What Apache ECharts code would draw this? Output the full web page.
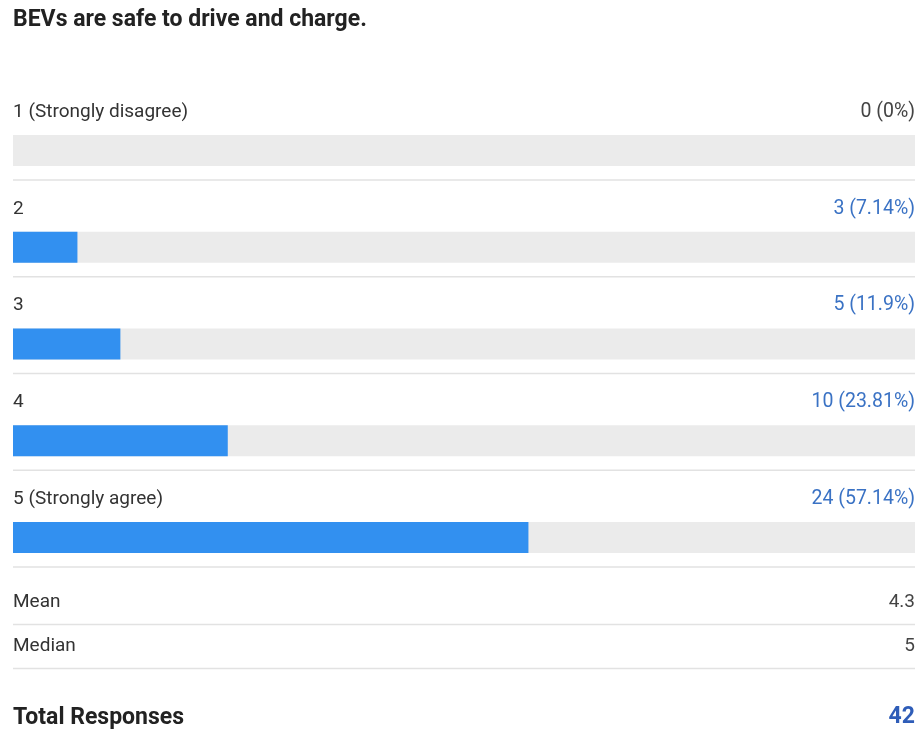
<!DOCTYPE html>
<html>
<head>
<meta charset="utf-8">
<script src="https://cdn.jsdelivr.net/npm/echarts@6/dist/echarts.min.js"></script>
<style>
  html, body { margin: 0; padding: 0; background: #fff; }
  #chart { width: 920px; height: 734px; }
</style>
</head>
<body>
<div id="chart"></div>
<script>
// Survey question and answer scale
const question = 'BEVs are safe to drive and charge.';
const choices = ['1 (Strongly disagree)', '2', '3', '4', '5 (Strongly agree)'];
const counts = [0, 3, 5, 10, 24];
const statLabels = ['Mean', 'Median'];
const statValues = ['4.3', '5'];
const totalLabel = 'Total Responses';

const total = counts.reduce((a, b) => a + b, 0);
const pct = counts.map(c => total ? c / total * 100 : 0);
const fmtPct = p => parseFloat(p.toFixed(2)) + '%';

const FONT = 'Roboto, "Noto Sans", sans-serif';
const LEFT = 13, RIGHT = 915;
const ROW = 96.75;
const FIRST_CENTER = 150.5;
const BAR_H = 31;

const chart = echarts.init(document.getElementById('chart'), null, { renderer: 'canvas' });

function renderItem(params, api) {
  const i = api.value(0);
  const v = api.value(1);
  const c0 = api.coord([0, i]);
  const c1 = api.coord([v, i]);
  const cEnd = api.coord([100, i]);
  const cy = c0[1];
  const count = counts[i];
  const children = [
    { type: 'rect', shape: { x: c0[0], y: cy - BAR_H / 2, width: cEnd[0] - c0[0], height: BAR_H },
      style: { fill: '#ebebeb' } },
    { type: 'rect', shape: { x: c0[0], y: cy - BAR_H / 2, width: c1[0] - c0[0], height: BAR_H },
      style: { fill: '#3290f0' } },
    { type: 'text', x: c0[0], y: cy - 38.5,
      style: { text: choices[i], fill: '#333333', font: '19px ' + FONT, textAlign: 'left', textVerticalAlign: 'middle' } },
    { type: 'text', x: cEnd[0], y: cy - 38.5,
      style: { text: count + ' (' + fmtPct(v) + ')', fill: count > 0 ? '#3a72c4' : '#444444',
               font: '19.5px ' + FONT, textAlign: 'right', textVerticalAlign: 'middle' } },
    { type: 'line', shape: { x1: c0[0], y1: cy + 29.5, x2: cEnd[0], y2: cy + 29.5 },
      style: { stroke: '#e2e2e2', lineWidth: 1.5 } }
  ];
  return { type: 'group', children };
}

const graphics = [
  { type: 'text', x: LEFT, y: 20,
    style: { text: question, fill: '#222222', font: 'bold 23px ' + FONT, textVerticalAlign: 'middle' } }
];
const statY = [602, 646];
statLabels.forEach((lab, k) => {
  graphics.push({ type: 'text', x: LEFT, y: statY[k],
    style: { text: lab, fill: '#333333', font: '19px ' + FONT, textVerticalAlign: 'middle' } });
  graphics.push({ type: 'text', x: RIGHT, y: statY[k],
    style: { text: statValues[k], fill: '#444444', font: '19px ' + FONT, textAlign: 'right', textVerticalAlign: 'middle' } });
  graphics.push({ type: 'line', shape: { x1: LEFT, y1: statY[k] + 22.5, x2: RIGHT, y2: statY[k] + 22.5 },
    style: { stroke: '#e2e2e2', lineWidth: 1.5 } });
});
graphics.push({ type: 'text', x: LEFT, y: 718,
  style: { text: totalLabel, fill: '#222222', font: 'bold 23px ' + FONT, textVerticalAlign: 'middle' } });
graphics.push({ type: 'text', x: RIGHT, y: 717,
  style: { text: String(total), fill: '#2f5db8', font: 'bold 23px ' + FONT, textAlign: 'right', textVerticalAlign: 'middle' } });

chart.setOption({
  animation: false,
  grid: { left: LEFT, right: 920 - RIGHT, top: FIRST_CENTER - ROW / 2, height: ROW * choices.length },
  xAxis: { type: 'value', min: 0, max: 100, show: false },
  yAxis: { type: 'category', data: choices, inverse: true, show: false },
  series: [{
    type: 'custom',
    renderItem,
    data: pct.map((p, i) => [i, p])
  }],
  graphic: graphics
});
</script>
</body>
</html>
